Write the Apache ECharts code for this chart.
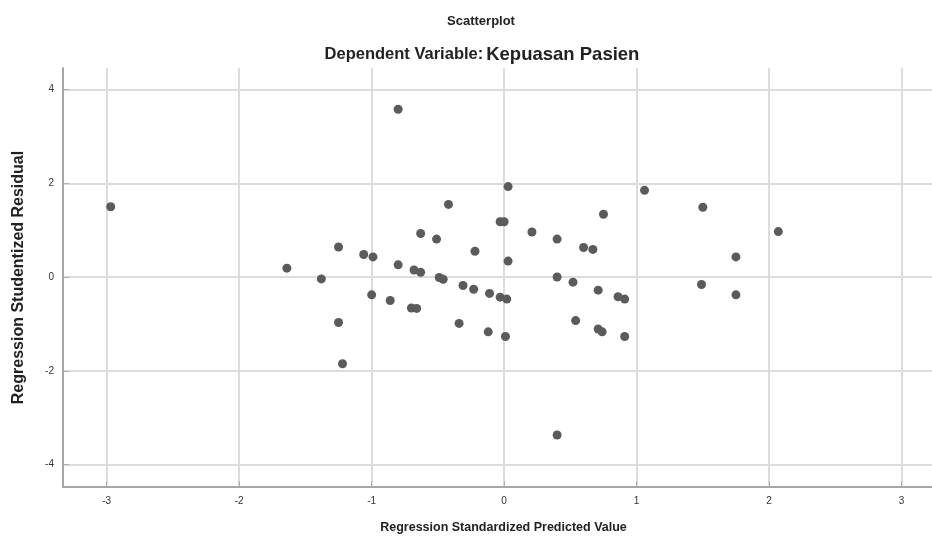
<!DOCTYPE html>
<html>
<head>
<meta charset="utf-8">
<script src="https://cdn.jsdelivr.net/npm/echarts@6/dist/echarts.min.js"></script>
<style>
  html, body { margin: 0; padding: 0; background: #fff; }
  #chart { width: 932px; height: 541px; }
</style>
</head>
<body>
<div id="chart"></div>
<script>
// Titik residual (x = predicted, y = studentized residual)
const predicted = [
  -2.97, -0.80, -1.25, 0.03, -0.42, -0.03, 0.00, -0.63, -0.51, 0.21,
  0.40, 0.60, 0.67, 0.75, -0.22, 1.06, -1.06, -0.99, 1.50, 2.07,
  1.75, -1.64, -1.38, -1.25, -1.22, -0.80, -0.68, -0.63, -0.49, -0.46,
  -0.31, -0.23, -0.11, -0.03, 0.02, 0.03, -1.00, -0.86, -0.70, -0.66,
  -0.34, -0.12, 0.01, 0.40, 0.52, 0.71, 0.86, 0.91, 0.54, 0.71,
  0.74, 0.91, 0.40, 1.49, 1.75
];
const residual = [
  1.50, 3.58, 0.64, 1.93, 1.55, 1.18, 1.18, 0.93, 0.81, 0.96,
  0.81, 0.63, 0.59, 1.34, 0.55, 1.85, 0.48, 0.43, 1.49, 0.97,
  0.43, 0.19, -0.04, -0.97, -1.85, 0.26, 0.15, 0.10, -0.01, -0.05,
  -0.18, -0.26, -0.35, -0.43, -0.47, 0.34, -0.38, -0.50, -0.66, -0.67,
  -0.99, -1.17, -1.27, 0.00, -0.11, -0.28, -0.42, -0.47, -0.93, -1.11,
  -1.17, -1.27, -3.37, -0.16, -0.38
];
const xRange = [-3.33, 3.23];
const yRange = [-4.48, 4.46];

const points = predicted.map((x, i) => [x, residual[i]]);

const chart = echarts.init(document.getElementById('chart'));

const font = '"Liberation Sans", Arial, sans-serif';

const axisCommon = {
  type: 'value',
  nameLocation: 'middle',
  axisLine: { show: true, onZero: false, lineStyle: { color: '#a6a6a6', width: 2 } },
  axisTick: { show: true, inside: true, length: 6, lineStyle: { color: '#b0b0b0' } },
  axisLabel: { fontFamily: font, fontSize: 10, color: '#333', showMinLabel: false, showMaxLabel: false, margin: 9 },
  splitLine: { show: true, showMinLine: false, showMaxLine: false, lineStyle: { color: '#dcdcdc', width: 2 } }
};

const option = {
  backgroundColor: '#fff',
  animation: false,
  title: [
    {
      text: 'Scatterplot',
      left: 476, top: 10, textAlign: 'center',
      textStyle: { fontFamily: font, fontWeight: 'bold', fontSize: 13, color: '#222' }
    },
    {
      text: '{a|Dependent Variable:}{b|Kepuasan Pasien}',
      left: 477, top: 40, textAlign: 'center',
      textStyle: {
        rich: {
          a: { fontFamily: font, fontWeight: 'bold', fontSize: 16.5, color: '#222' },
          b: { fontFamily: font, fontSize: 18.5, color: '#222', padding: [0, 0, 0, 3] }
        }
      }
    }
  ],
  grid: { left: 63, top: 68, right: 0, bottom: 54 },
  xAxis: Object.assign({}, axisCommon, {
    min: xRange[0], max: xRange[1],
    name: 'Regression Standardized Predicted Value',
    nameGap: 34,
    nameTextStyle: { fontFamily: font, fontWeight: 'bold', fontSize: 12.5, color: '#222', padding: [0, 0, 0, 12] }
  }),
  yAxis: Object.assign({}, axisCommon, {
    min: yRange[0], max: yRange[1],
    name: 'Regression Studentized Residual',
    nameGap: 36,
    nameTextStyle: { fontFamily: font, fontWeight: 'bold', fontSize: 16, color: '#222' }
  }),
  series: [
    {
      type: 'scatter',
      data: points,
      symbolSize: 9,
      itemStyle: { color: '#5b5b5b', opacity: 1 }
    }
  ]
};

chart.setOption(option);
</script>
</body>
</html>
